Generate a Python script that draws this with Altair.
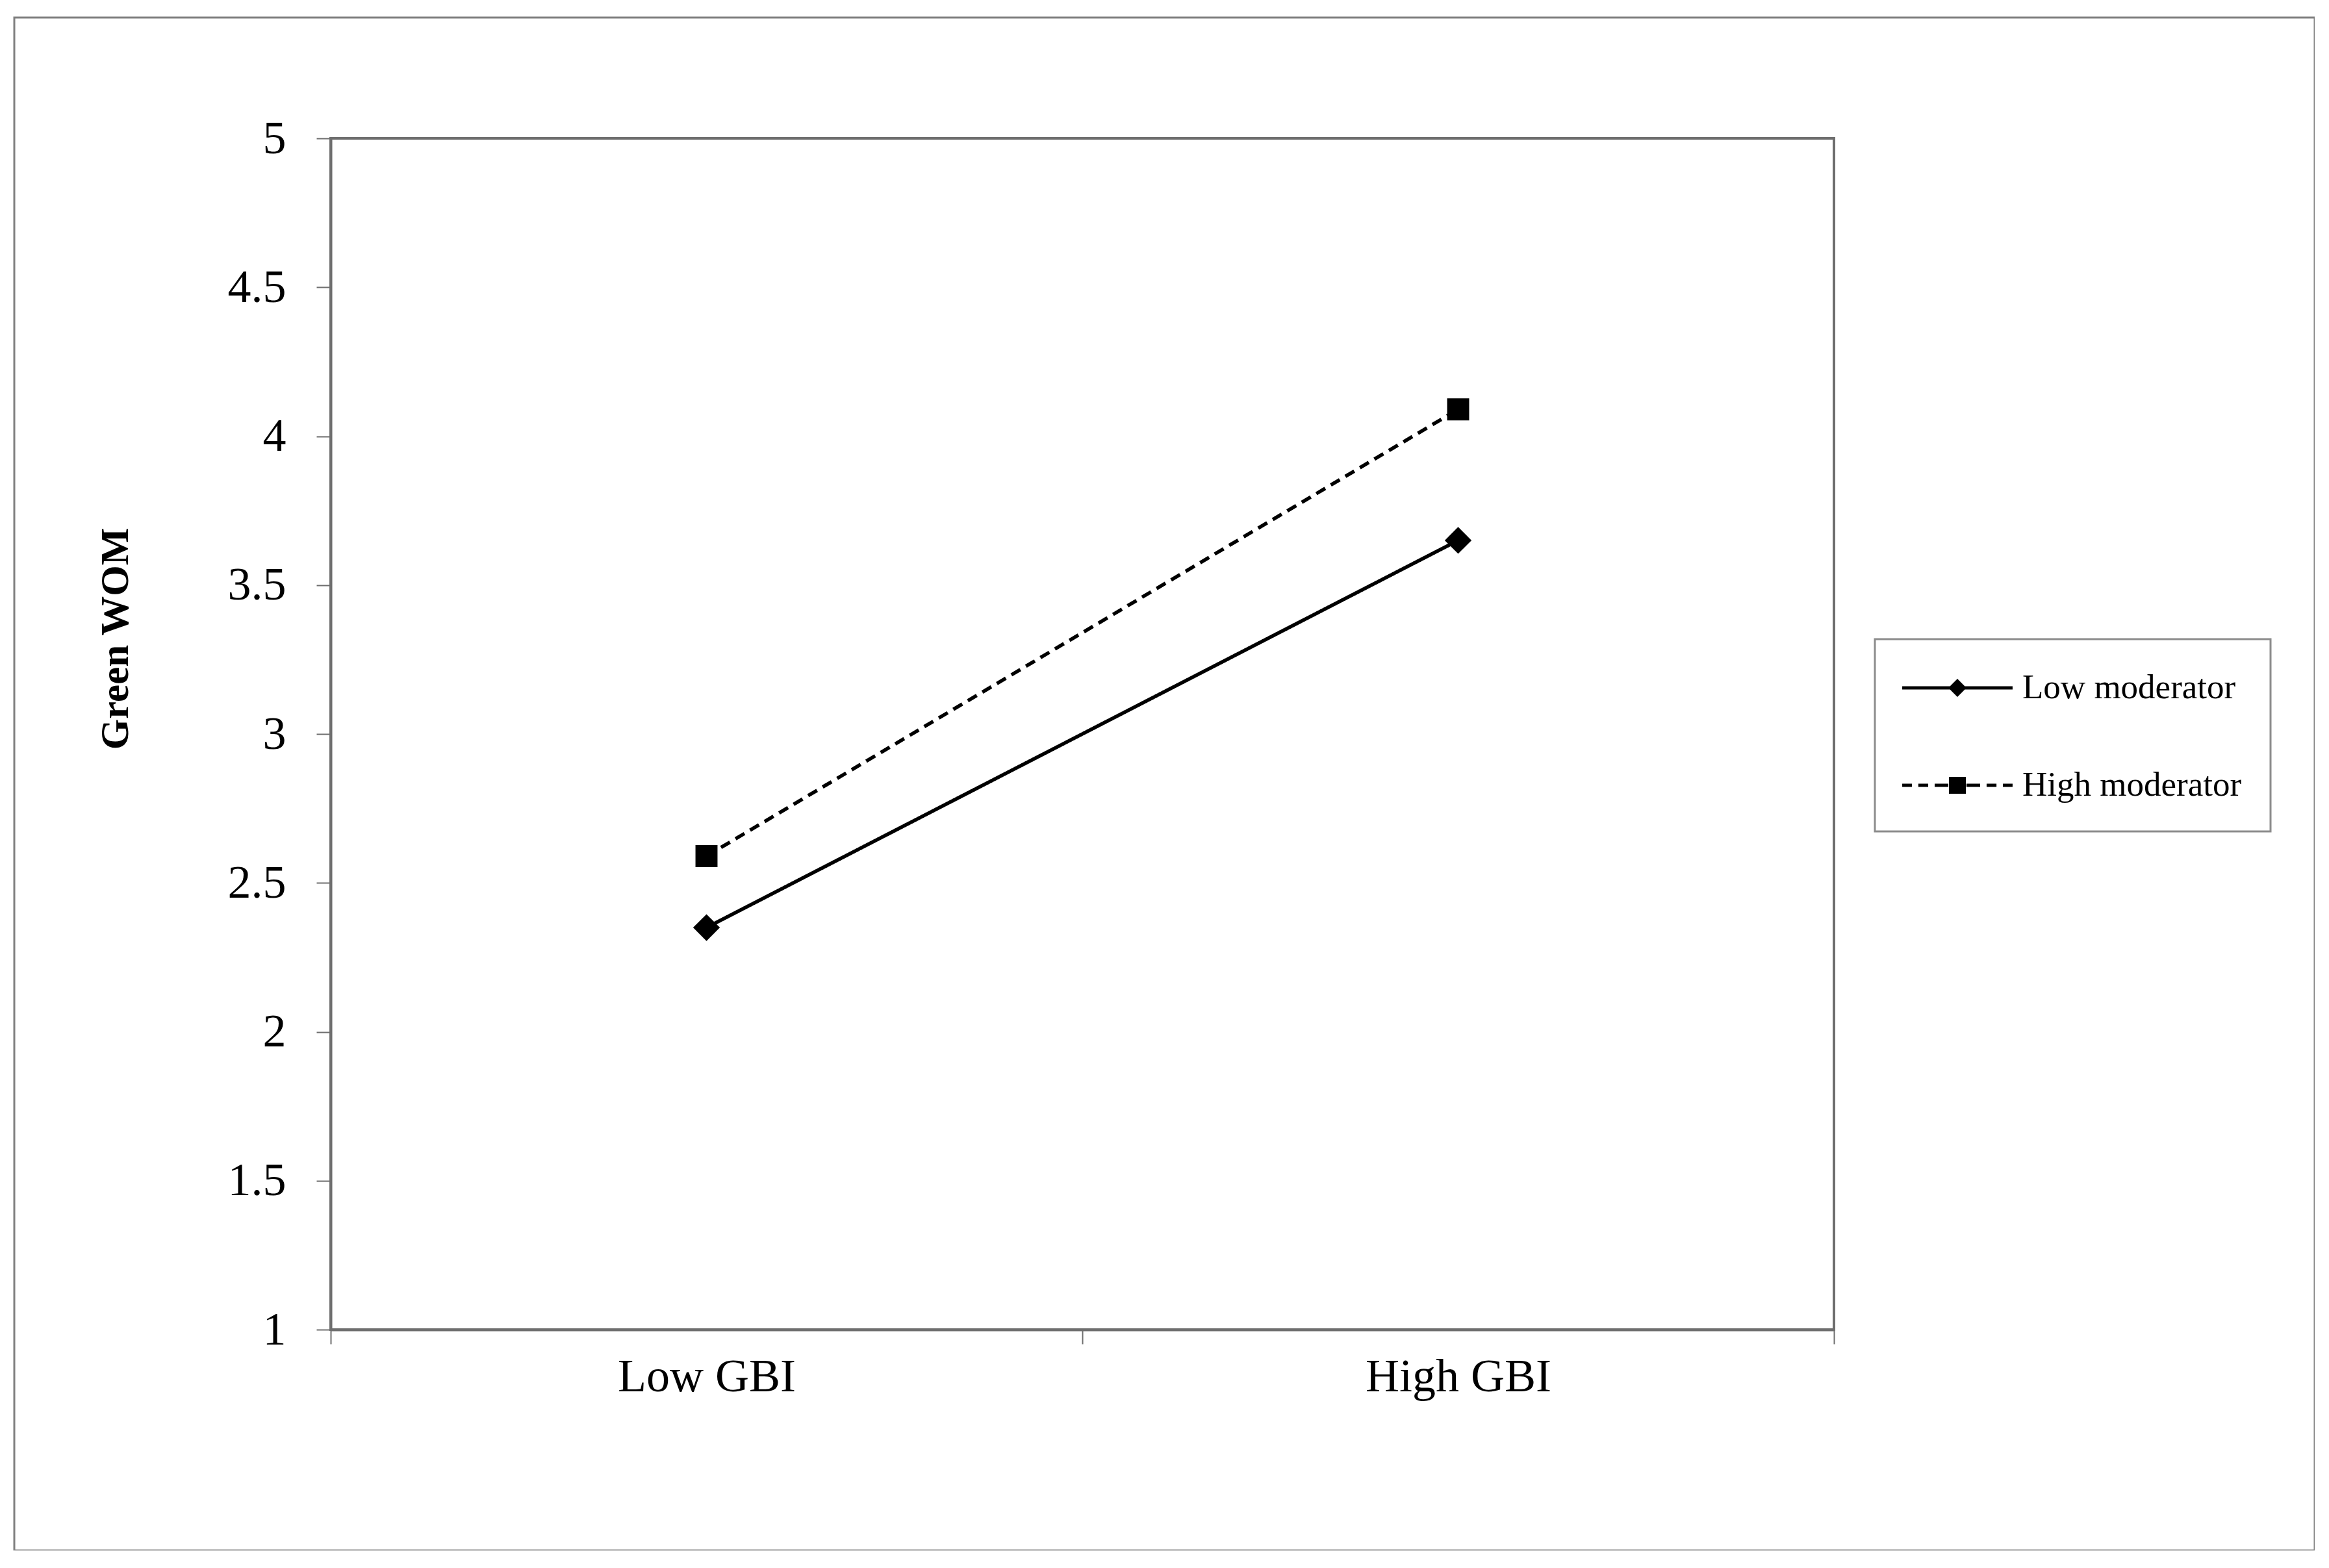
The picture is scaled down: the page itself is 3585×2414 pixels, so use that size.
import altair as alt
import pandas as pd

# ---- data ----
gbi_levels = ["Low GBI", "High GBI"]
series_names = ["Low moderator", "High moderator"]
low_moderator = [2.35, 3.65]
high_moderator = [2.59, 4.09]
y_ticks = [1, 1.5, 2, 2.5, 3, 3.5, 4, 4.5, 5]

rows = []
for s, vals in zip(series_names, [low_moderator, high_moderator]):
    for g, v in zip(gbi_levels, vals):
        rows.append({"gbi": g, "series": s, "wom": v})
df = pd.DataFrame(rows)

W, H = 2314, 1834
FONT = "Liberation Serif"
AXIS_GRAY = "#6e6e6e"

x_enc = alt.X(
    "gbi:N",
    scale=alt.Scale(type="band", domain=gbi_levels, paddingInner=0, paddingOuter=0),
    bandPosition=0.5,
    axis=alt.Axis(
        title=None, tickBand="extent", labelAngle=0, labelFont=FONT,
        labelFontSize=72, labelColor="black", labelPadding=15, labelLimit=0,
        tickSize=22, tickColor=AXIS_GRAY, tickWidth=2, domainColor=AXIS_GRAY,
        domainWidth=4,
    ),
)
y_enc = alt.Y(
    "wom:Q",
    scale=alt.Scale(domain=[1, 5], nice=False, zero=False),
    axis=alt.Axis(
        title="Green WOM", values=y_ticks, format="~g", grid=False,
        labelFont=FONT, labelFontSize=72, labelColor="black", labelPadding=47,
        tickSize=22, tickColor=AXIS_GRAY, tickWidth=2, domainColor=AXIS_GRAY,
        domainWidth=4, titleFont=FONT, titleFontWeight="bold", titleFontSize=61,
        titleColor="black", titleX=-331, titleY=770, titleAlign="center",
        titleBaseline="middle", titleAngle=270,
    ),
)


# ---- legend symbols: line + marker drawn as filled shapes (unit = 31px) ----
def hbar(x0, x1, h=0.08):
    return f"M{x0},{-h}H{x1}V{h}H{x0}Z"


solid_line = hbar(-2.74, 2.74)
dashed_line = "".join(
    hbar(a, b) for a, b in [(-2.74, -2.26), (-1.94, -1.45), (-1.13, -0.45),
                            (0.45, 1.13), (1.45, 1.94), (2.26, 2.74)]
)
diamond_marker = "M0,-0.45L0.45,0L0,0.45L-0.45,0Z"
square_marker = "M-0.42,-0.42L0.42,-0.42L0.42,0.42L-0.42,0.42Z"
legend_paths = [solid_line + diamond_marker, dashed_line + square_marker]

leg = alt.Legend(
    title=None, orient="none", legendX=2377, legendY=771, direction="vertical",
    symbolSize=3844, symbolStrokeWidth=0, symbolFillColor="black",
    symbolOffset=52, labelOffset=69, rowPadding=92,
    labelFont=FONT, labelFontSize=53, labelColor="black", labelLimit=0,
)

frame = alt.Chart(pd.DataFrame({"a": [0]})).mark_rect(
    fill="white", fillOpacity=0, stroke="#808080", strokeWidth=3
).encode(x=alt.value(-487), x2=alt.value(3054), y=alt.value(-186), y2=alt.value(2174))

line_low = alt.Chart(df).transform_filter(alt.datum.series == "Low moderator").mark_line(
    color="black", strokeWidth=5.5, strokeDash=[1, 0]
).encode(x=x_enc, y=y_enc)

line_high = alt.Chart(df).transform_filter(alt.datum.series == "High moderator").mark_line(
    color="black", strokeWidth=5.5, strokeDash=[16, 10]
).encode(x=x_enc, y=y_enc)

pts_low = alt.Chart(df).transform_filter(alt.datum.series == "Low moderator").mark_point(
    shape="diamond", filled=True, color="black", size=1700, opacity=1
).encode(x=x_enc, y=y_enc)

pts_high = alt.Chart(df).transform_filter(alt.datum.series == "High moderator").mark_point(
    shape="square", filled=True, color="black", size=1150, opacity=1
).encode(x=x_enc, y=y_enc)

legend_layer = alt.Chart(df).mark_point(
    filled=True, color="black", opacity=0
).encode(
    x=x_enc, y=y_enc,
    shape=alt.Shape("series:N", scale=alt.Scale(domain=series_names, range=legend_paths), legend=leg),
)

chart = alt.layer(frame, line_low, line_high, pts_low, pts_high, legend_layer).properties(
    width=W, height=H,
    autosize=alt.AutoSizeParams(type="none"),
    padding={"left": 501, "top": 205, "right": 740, "bottom": 340},
    background="white",
).configure_view(
    stroke=AXIS_GRAY, strokeWidth=4
).configure_legend(
    padding=44, strokeColor="#8c8c8c", strokeWidth=3, fillColor="white",
)

chart.save("out.html", embed_options={"renderer": "svg", "actions": False})
